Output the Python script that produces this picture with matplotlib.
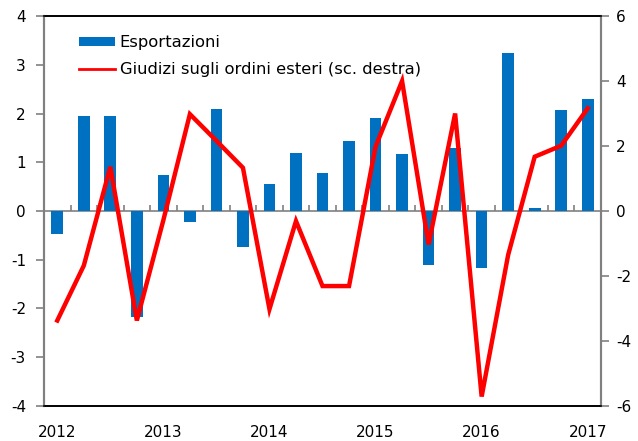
import numpy as np
import matplotlib
matplotlib.use("Agg")
import matplotlib.pyplot as plt
from matplotlib.lines import Line2D
from matplotlib.patches import Patch

plt.rcParams['font.family'] = ['DejaVu Sans']
plt.rcParams['axes.unicode_minus'] = False

# quarterly data, 2012Q1 - 2017Q1
years = ['2012', '2013', '2014', '2015', '2016', '2017']
esportazioni = [-0.47, 1.95, 1.95, -2.17, 0.74, -0.22, 2.09, -0.73,
                0.55, 1.19, 0.78, 1.44, 1.91, 1.17, -1.11, 1.30,
                -1.16, 3.24, 0.06, 2.07, 2.30]
giudizi = [-3.37, -1.68, 1.36, -3.37, -0.28, 2.98, 2.16, 1.33,
           -3.02, -0.31, -2.31, -2.31, 1.98, 4.0, -1.03, 3.0,
           -5.71, -1.35, 1.67, 2.01, 3.16]

blue = '#0070c0'
red = '#ff0000'
grey = '#808080'

x = np.arange(len(esportazioni))

fig = plt.figure(figsize=(6.38, 4.41), dpi=100)
ax = fig.add_axes([0.069, 0.0794, 0.873, 0.8843])
ax2 = ax.twinx()

ax.bar(x, esportazioni, width=0.44, color=blue, zorder=2)
ax2.plot(x, giudizi, color=red, lw=3.2, solid_joinstyle='miter', zorder=3)

ax.set_xlim(-0.5, len(x) - 0.5)
ax.set_ylim(-4, 4)
ax2.set_ylim(-6, 6)
ax.set_yticks(range(-4, 5))
ax2.set_yticks(range(-6, 7, 2))

# year labels under the first quarter of each year
ax.set_xticks(x[::4])
ax.set_xticklabels(years)
ax.tick_params(axis='x', length=0, pad=14, labelsize=11)
ax.tick_params(axis='y', length=6, width=1.2, color=grey, labelsize=11, pad=7)
ax2.tick_params(axis='y', length=6, width=1.2, color=grey, labelsize=11, pad=5)

for a in (ax, ax2):
    a.spines['left'].set_color(grey)
    a.spines['right'].set_color(grey)
    a.spines['left'].set_linewidth(1.5)
    a.spines['right'].set_linewidth(1.5)
    a.spines['top'].set_color('black')
    a.spines['bottom'].set_color('black')
    a.spines['top'].set_linewidth(1.2)
    a.spines['bottom'].set_linewidth(1.2)

# zero line with small ticks between quarters
zero = ax.secondary_xaxis(0.5)
zero.set_xticks(np.arange(0.5, len(x) - 1, 1))
zero.set_xticklabels([])
zero.tick_params(length=4, width=1.2, color=grey)
zero.spines['top'].set_color(grey)
zero.spines['bottom'].set_color(grey)
zero.spines['top'].set_linewidth(1.2)
zero.spines['bottom'].set_linewidth(1.2)

handles = [Patch(facecolor=blue, edgecolor='none'),
           Line2D([], [], color=red, lw=2)]
labels = ['Esportazioni', 'Giudizi sugli ordini esteri (sc. destra)']
ax2.legend(handles, labels, loc='upper left', bbox_to_anchor=(0.039, 0.985),
           frameon=False, fontsize=11.8, handlelength=2.2, handleheight=0.45,
           handletextpad=0.3, labelspacing=0.75, borderpad=0.3)

fig.savefig('out.png', dpi=100)
